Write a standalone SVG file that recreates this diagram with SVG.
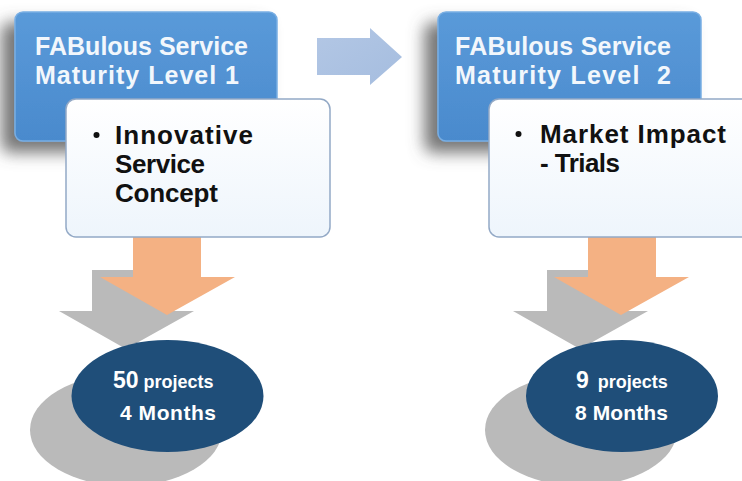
<svg xmlns="http://www.w3.org/2000/svg" width="742" height="481" viewBox="0 0 742 481">
  <defs>
    <linearGradient id="blueFill" x1="0" y1="0" x2="0" y2="1">
      <stop offset="0" stop-color="#5a9ad9"/>
      <stop offset="1" stop-color="#4a8acd"/>
    </linearGradient>
    <linearGradient id="whiteFill" x1="0" y1="0" x2="0" y2="1">
      <stop offset="0" stop-color="#ffffff"/>
      <stop offset="1" stop-color="#eef5fc"/>
    </linearGradient>
    <linearGradient id="arrowFill" x1="0" y1="0" x2="1" y2="1">
      <stop offset="0" stop-color="#b3c7e5"/>
      <stop offset="1" stop-color="#a5bddf"/>
    </linearGradient>
    <filter id="shadow" x="-30%" y="-30%" width="160%" height="170%">
      <feGaussianBlur in="SourceAlpha" stdDeviation="8"/>
      <feOffset dx="-13" dy="11" result="b"/>
      <feFlood flood-color="#5e5e5e" flood-opacity="0.85"/>
      <feComposite in2="b" operator="in"/>
      <feMerge><feMergeNode/><feMergeNode in="SourceGraphic"/></feMerge>
    </filter>
  </defs>
  <style>
    .head { fill: url(#blueFill); stroke: #78aee3; stroke-width: 1.5; }
    .body { fill: url(#whiteFill); stroke: #93a9c6; stroke-width: 1.5; }
    .htxt { font-family: "Liberation Sans", Arial, sans-serif; font-weight: bold; font-size: 25px; fill: #f2f7fc; }
    .btxt { font-family: "Liberation Sans", Arial, sans-serif; font-weight: bold; font-size: 26px; fill: #111111; }
    .etxt { font-family: "Liberation Sans", Arial, sans-serif; font-weight: bold; fill: #ffffff; }
    .orange { fill: #f4b183; }
    .gray { fill: #bababa; }
    .oval { fill: #1f4e79; }
  </style>
  <rect width="742" height="481" fill="#ffffff"/>

  <g id="connectors">
    <polygon id="arrow-right" points="317,38 370,38 370,28 402,57 370,85 370,75 317,75" fill="url(#arrowFill)"/>
    <polygon class="gray" points="92,270 160,270 160,311 194,311 126,349 59,311 92,311"/>
    <polygon class="orange" points="133,236 201,236 201,277 235,277 167,315 100,277 133,277"/>
    <polygon class="gray" points="547,270 615,270 615,311 648,311 580,349 513,311 547,311"/>
    <polygon class="orange" points="588,236 656,236 656,277 689,277 621,315 554,277 588,277"/>
  </g>

  <g id="level1">
    <rect class="head" x="15" y="12" width="262" height="129" rx="8" filter="url(#shadow)"/>
    <text class="htxt" x="35" y="55" textLength="213" lengthAdjust="spacing">FABulous Service</text>
    <text class="htxt" x="35" y="84" textLength="204" lengthAdjust="spacing">Maturity Level 1</text>
  </g>
  <g id="level1-detail">
    <rect class="body" x="66" y="99" width="264" height="138" rx="10"/>
    <circle cx="96.5" cy="135" r="3" fill="#111111"/>
    <text class="btxt" x="115" y="144" textLength="138" lengthAdjust="spacing">Innovative</text>
    <text class="btxt" x="115" y="173" textLength="90" lengthAdjust="spacing">Service</text>
    <text class="btxt" x="115" y="202" textLength="103" lengthAdjust="spacing">Concept</text>
  </g>

  <g id="level2">
    <rect class="head" x="438" y="12" width="263" height="129" rx="8" filter="url(#shadow)"/>
    <text class="htxt" x="455" y="55" textLength="216" lengthAdjust="spacing">FABulous Service</text>
    <text class="htxt" x="455" y="84" textLength="216" lengthAdjust="spacing" xml:space="preserve">Maturity Level  2</text>
  </g>
  <g id="level2-detail">
    <rect class="body" x="489" y="99" width="264" height="138" rx="10"/>
    <circle cx="518.5" cy="134" r="3" fill="#111111"/>
    <text class="btxt" x="540" y="143" textLength="186" lengthAdjust="spacing">Market Impact</text>
    <text class="btxt" x="540" y="172" textLength="80" lengthAdjust="spacing">- Trials</text>
  </g>

  <g id="result1">
    <ellipse class="gray" cx="126" cy="430" rx="96" ry="56"/>
    <ellipse class="oval" cx="167.5" cy="396" rx="96" ry="56"/>
    <text class="etxt" x="113" y="388"><tspan font-size="23px">50</tspan><tspan font-size="18px" dx="5">projects</tspan></text>
    <text class="etxt" x="120" y="420" font-size="21px" textLength="96" lengthAdjust="spacing">4 Months</text>
  </g>

  <g id="result2">
    <ellipse class="gray" cx="581" cy="430" rx="96" ry="56"/>
    <ellipse class="oval" cx="622" cy="396" rx="96" ry="56"/>
    <text class="etxt" x="576" y="388"><tspan font-size="23px">9</tspan><tspan font-size="18px" dx="9">projects</tspan></text>
    <text class="etxt" x="575" y="420" font-size="21px" textLength="93" lengthAdjust="spacing">8 Months</text>
  </g>
</svg>
